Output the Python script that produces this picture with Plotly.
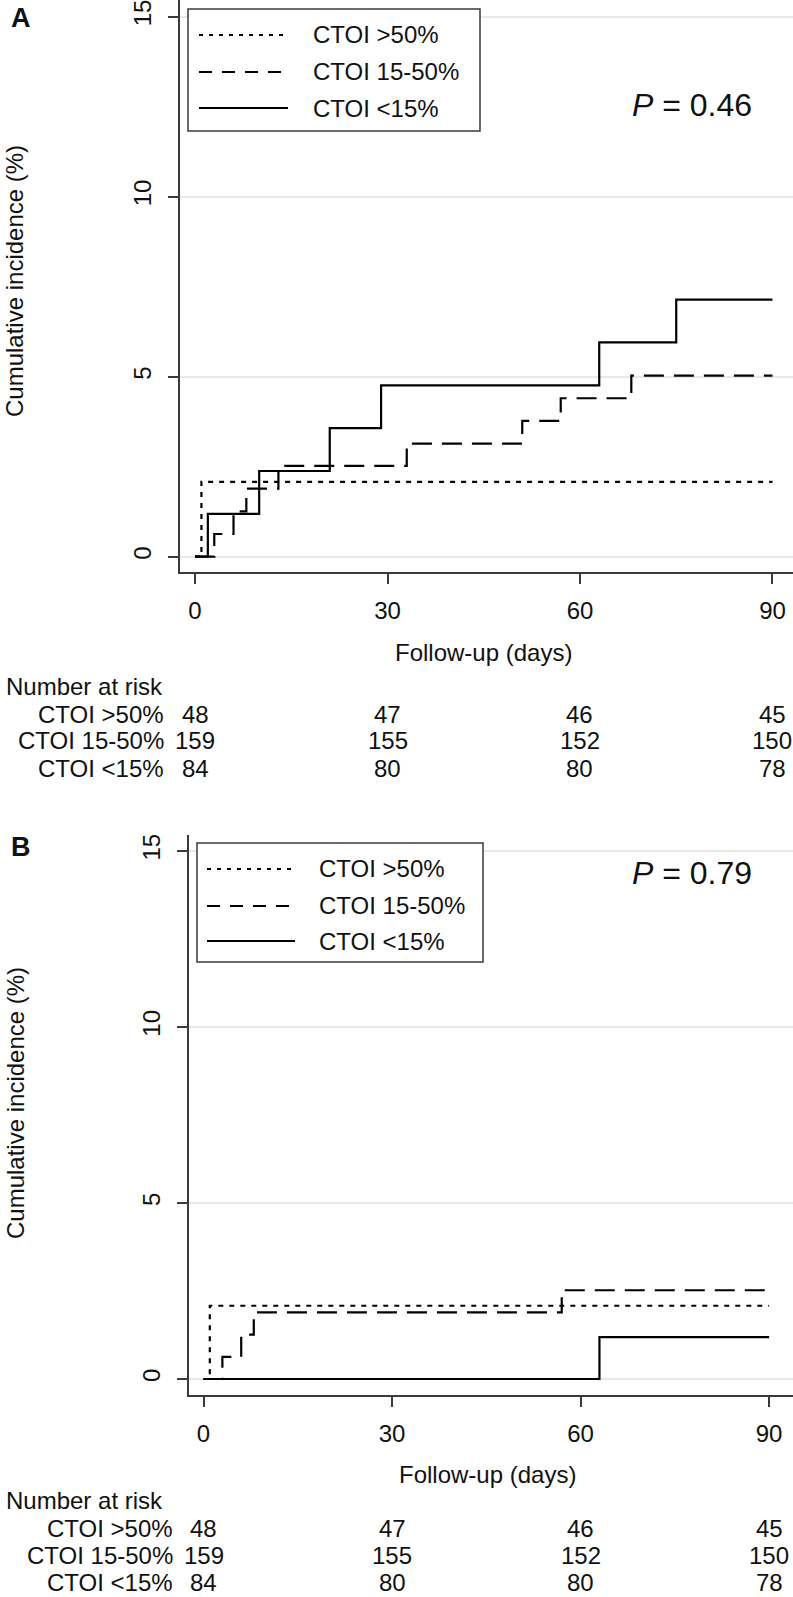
import plotly.graph_objects as go

# Cumulative incidence by CTOI group, two panels (A, B) with number-at-risk tables

W, H = 793, 1597

groups = ["CTOI &gt;50%", "CTOI 15-50%", "CTOI &lt;15%"]

# Panel A step data (days, cumulative incidence %)
a_days_gt50 = [0, 1, 90]
a_inc_gt50 = [0, 2.08, 2.08]
a_days_15_50 = [0, 3, 6, 8, 13, 33, 51, 57, 68, 90]
a_inc_15_50 = [0, 0.63, 1.26, 1.89, 2.52, 3.14, 3.77, 4.40, 5.03, 5.03]
a_days_lt15 = [0, 2, 10, 21, 29, 63, 75, 90]
a_inc_lt15 = [0, 1.19, 2.38, 3.57, 4.76, 5.95, 7.14, 7.14]

# Panel B step data
b_days_gt50 = [0, 1, 90]
b_inc_gt50 = [0, 2.08, 2.08]
b_days_15_50 = [0, 3, 6, 8, 57, 90]
b_inc_15_50 = [0, 0.63, 1.26, 1.89, 2.52, 2.52]
b_days_lt15 = [0, 63, 90]
b_inc_lt15 = [0, 1.19, 1.19]

# Number at risk
risk_times = [0, 30, 60, 90]
risk_gt50 = [48, 47, 46, 45]
risk_15_50 = [159, 155, 152, 150]
risk_lt15 = [84, 80, 80, 78]

x_ticks = [0, 30, 60, 90]
y_ticks = [0, 5, 10, 15]
p_values = ["0.46", "0.79"]

FONT = "Liberation Sans, Arial, Helvetica, sans-serif"
INK = "#111111"
AXIS = "#3a3a3a"

plot_dash = ["5px,6px", "20px,10px", "solid"]
legend_dash = ["4px,6px", "13px,10px", "solid"]


def fx(x):
    return x / W


def fy(y):
    return 1 - y / H


def axis_style():
    return dict(showline=True, linecolor=AXIS, linewidth=1.5, ticks="outside", ticklen=10,
                tickwidth=1.5, tickcolor=AXIS, zeroline=False, mirror=False,
                tickfont=dict(family=FONT, size=24, color=INK))


fig = go.Figure()

panels = [
    dict(label="A", xa="x", ya="y", days=[a_days_gt50, a_days_15_50, a_days_lt15],
         inc=[a_inc_gt50, a_inc_15_50, a_inc_lt15], p=p_values[0],
         off=0, tab_off=0, ylab_x=15, lbl_right=166, box=(188, 9, 480, 131), samp=(199, 288, 311),
         rows=(35, 72, 108), p_y=105, letter_y=18),
    dict(label="B", xa="x2", ya="y2", days=[b_days_gt50, b_days_15_50, b_days_lt15],
         inc=[b_inc_gt50, b_inc_15_50, b_inc_lt15], p=p_values[1],
         off=822, tab_off=814, ylab_x=15, lbl_right=175, box=(197, 843, 483, 962), samp=(207, 295, 317),
         rows=(869, 906, 941), p_y=873, letter_y=847),
]

shapes = []
annotations = []
risks = [risk_gt50, risk_15_50, risk_lt15]

for pn in panels:
    for i in range(3):
        fig.add_trace(go.Scatter(x=pn["days"][i], y=pn["inc"][i], mode="lines", line_shape="hv",
                                 line=dict(color="black", width=2.2, dash=plot_dash[i]),
                                 xaxis=pn["xa"], yaxis=pn["ya"], showlegend=False,
                                 name=groups[i]))

    off = pn["off"]
    # panel letter
    annotations.append(dict(text="<b>%s</b>" % pn["label"], x=fx(21), y=fy(pn["letter_y"]),
                            xref="paper", yref="paper", showarrow=False, xanchor="center", yanchor="middle",
                            font=dict(family=FONT, size=27, color=INK)))
    # y title
    annotations.append(dict(text="Cumulative incidence (%)", x=fx(pn["ylab_x"]), y=fy(281 + off),
                            xref="paper", yref="paper", showarrow=False, textangle=-90,
                            xanchor="center", yanchor="middle", font=dict(family=FONT, size=24, color=INK)))
    # x title
    annotations.append(dict(text="Follow-up (days)", x=fx(483 + (4 if off else 0)), y=fy(652 + off),
                            xref="paper", yref="paper", showarrow=False, xanchor="center", yanchor="middle",
                            font=dict(family=FONT, size=24, color=INK)))
    # P value
    annotations.append(dict(text="<i>P</i> = " + pn["p"], x=fx(692), y=fy(pn["p_y"]),
                            xref="paper", yref="paper", showarrow=False, xanchor="center", yanchor="middle",
                            font=dict(family=FONT, size=32, color=INK)))

    # legend box
    x0, y0, x1, y1 = pn["box"]
    shapes.append(dict(type="rect", xref="paper", yref="paper", x0=fx(x0), x1=fx(x1), y0=fy(y1), y1=fy(y0),
                       line=dict(color=AXIS, width=1.5), fillcolor="white", layer="above"))
    s0, s1, tx = pn["samp"]
    for i, ry in enumerate(pn["rows"]):
        shapes.append(dict(type="line", xref="paper", yref="paper", x0=fx(s0), x1=fx(s1), y0=fy(ry), y1=fy(ry),
                           line=dict(color="black", width=2, dash=legend_dash[i]), layer="above"))
        annotations.append(dict(text=groups[i], x=fx(tx), y=fy(ry), xref="paper", yref="paper",
                                showarrow=False, xanchor="left", yanchor="middle",
                                font=dict(family=FONT, size=24, color=INK)))

    # number at risk table
    toff = pn["tab_off"]
    annotations.append(dict(text="Number at risk", x=fx(4), y=fy(686 + toff), xref="paper", yref="paper",
                            showarrow=False, xanchor="left", yanchor="middle",
                            font=dict(family=FONT, size=24, color=INK)))
    for i, ry in enumerate([714, 741, 768]):
        annotations.append(dict(text=groups[i], x=fx(pn["lbl_right"]), y=fy(ry + toff), xref="paper",
                                yref="paper", showarrow=False, xanchor="right", yanchor="middle",
                                font=dict(family=FONT, size=24, color=INK)))
        for t, n in zip(risk_times, risks[i]):
            annotations.append(dict(text=str(n), x=t, y=fy(ry + toff), xref=pn["xa"], yref="paper",
                                    showarrow=False, xanchor="center", yanchor="middle",
                                    font=dict(family=FONT, size=24, color=INK)))

fig.update_layout(
    width=W, height=H, margin=dict(l=0, r=0, t=0, b=0, pad=0),
    paper_bgcolor="white", plot_bgcolor="white", showlegend=False,
    xaxis=dict(domain=[fx(180), 1], range=[-2.34, 93.2], tickvals=x_ticks, anchor="y",
               showgrid=False, ticklabelstandoff=6, **axis_style()),
    yaxis=dict(domain=[fy(572), 1], range=[-0.425, 15.46], tickvals=y_ticks, anchor="x",
               showgrid=True, gridcolor="#e8e8e8", gridwidth=1.5, tickangle=-90,
               ticklabelstandoff=8, ticklabeloverflow="allow", **axis_style()),
    xaxis2=dict(domain=[fx(189), 1], range=[-2.31, 93.8], tickvals=x_ticks, anchor="y2",
                showgrid=False, ticklabelstandoff=6, **axis_style()),
    yaxis2=dict(domain=[fy(1395), fy(835)], range=[-0.455, 15.45], tickvals=y_ticks, anchor="x2",
                showgrid=True, gridcolor="#e8e8e8", gridwidth=1.5, tickangle=-90,
                ticklabelstandoff=8, ticklabeloverflow="allow", **axis_style()),
    shapes=shapes, annotations=annotations,
)

# drop the default page margin so the figure sits flush in the window
fig.write_html("out.html", config={"displayModeBar": False},
               post_script="document.body.style.margin='0';document.body.style.overflow='hidden';")
